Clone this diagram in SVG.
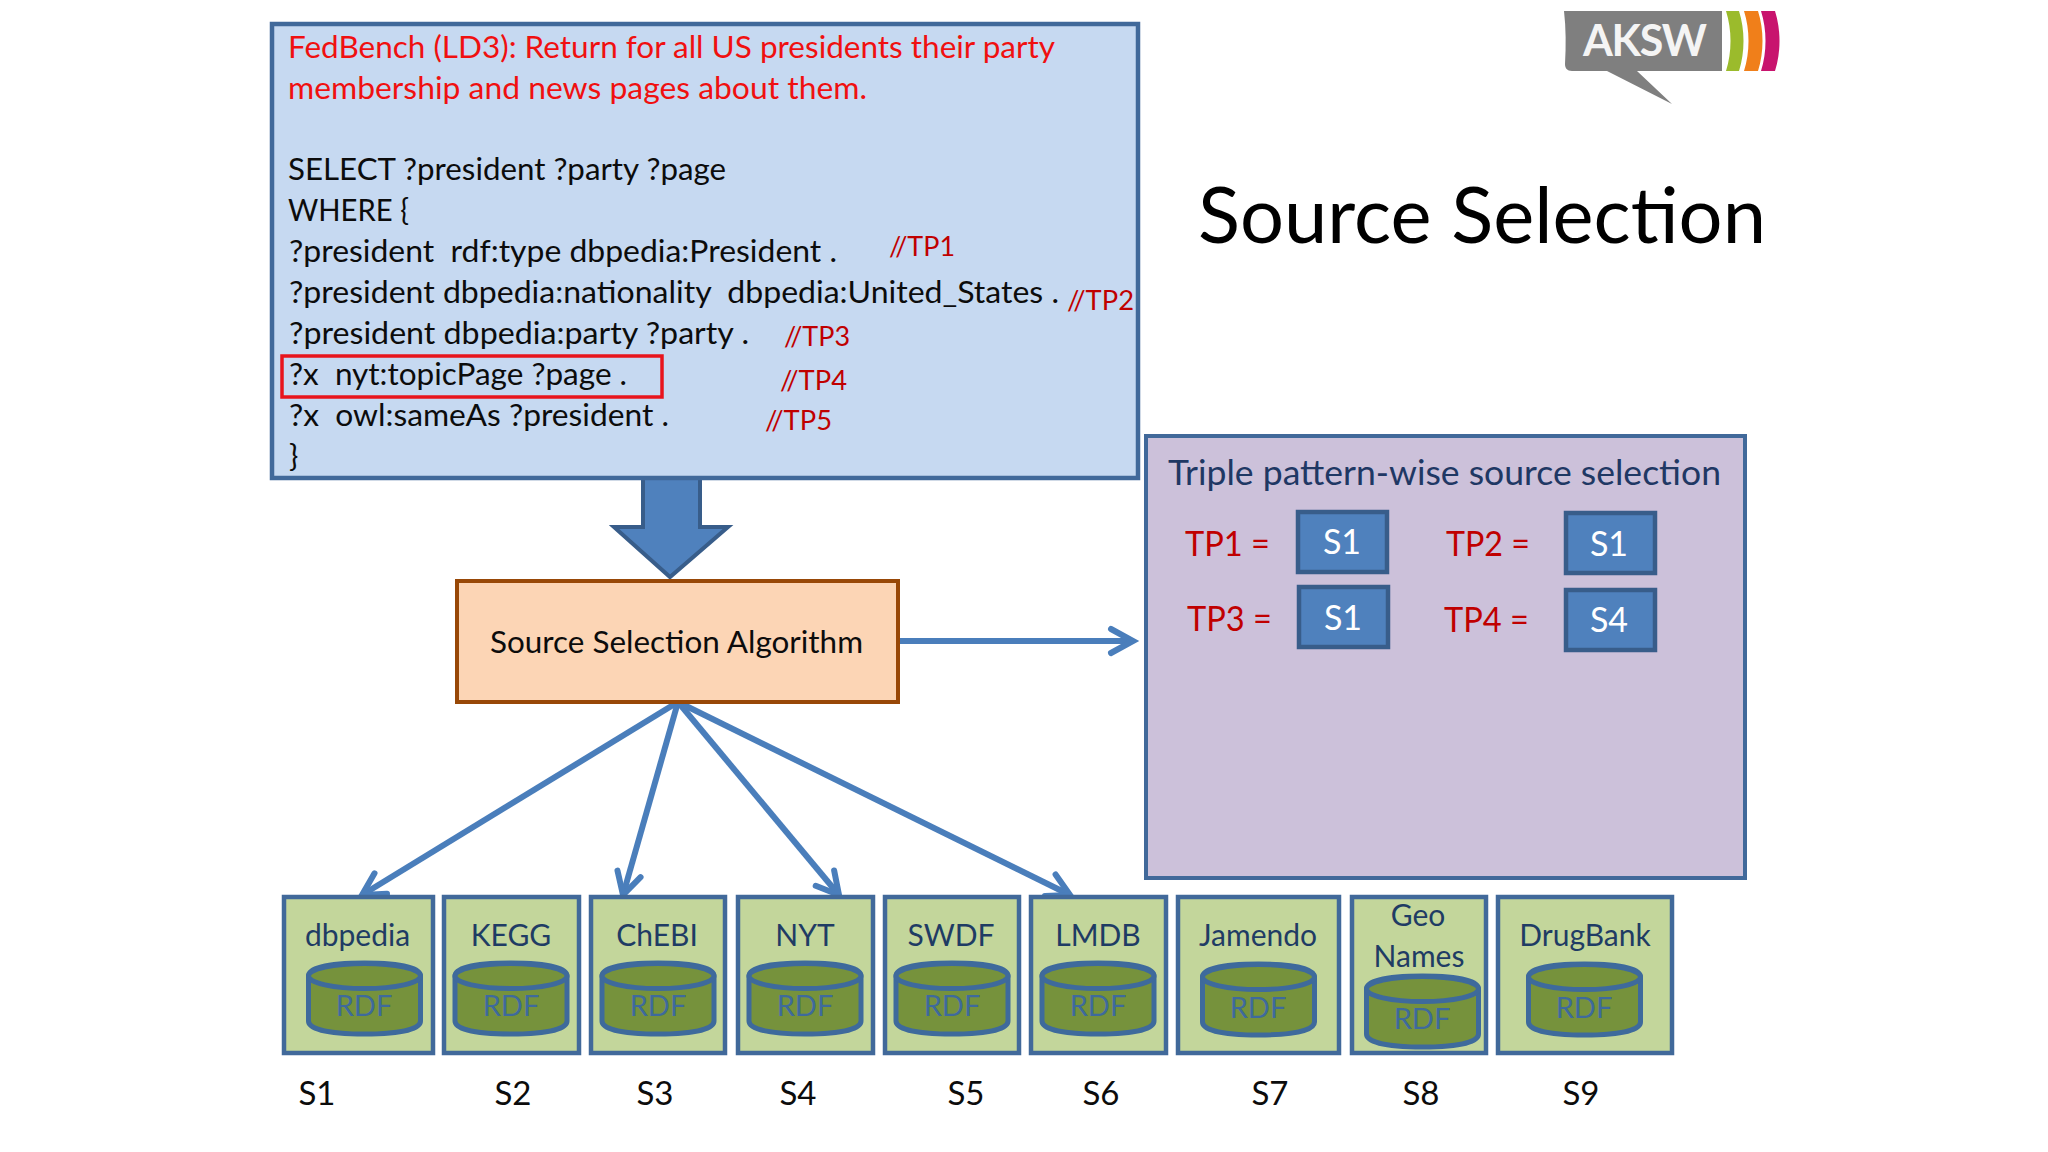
<svg xmlns="http://www.w3.org/2000/svg" width="2048" height="1152" viewBox="0 0 2048 1152">
<style>
text{font-family:Lato,"Liberation Sans",sans-serif}
.q{font-size:31px;fill:#0c0c0c}
.red{font-size:31px;fill:#f01010}
.tp{font-size:27px;fill:#c00000}
.src{fill:#c3d69b;stroke:#41699a;stroke-width:4.5}
.cyl{fill:#76923c;stroke:#3e6a9c;stroke-width:5}
.nm{font-size:30px;fill:#1f3c64;text-anchor:middle}
.rdf{font-size:29px;fill:#3e6a9c;text-anchor:middle}
.sl{font-size:33px;fill:#0c0c0c;text-anchor:middle}
.sb{fill:#4f81bd;stroke:#385d8a;stroke-width:4.5}
.sbt{font-size:34px;fill:#fff;text-anchor:middle}
.te{font-size:34px;fill:#c00000}
.ln{fill:none;stroke:#4a7ebb;stroke-width:6}
</style>
<defs>
<marker id="open" markerUnits="userSpaceOnUse" markerWidth="40" markerHeight="40" refX="30" refY="20" orient="auto" overflow="visible">
<path d="M8,8 L30,20 L8,32" fill="none" stroke="#4a7ebb" stroke-width="6" stroke-linecap="round" stroke-linejoin="miter"/>
</marker>
<g id="cy"><path class="cyl" d="M-56,13 V58 C-56,67 -32,71 0,71 C32,71 56,67 56,58 V13 C56,4 32,0 0,0 C-32,0 -56,4 -56,13 Z"/><ellipse class="cyl" cx="0" cy="13" rx="56" ry="12.5"/></g>
</defs>
<rect width="2048" height="1152" fill="#fff"/>

<g id="logo">
<path d="M1564,11 H1722 V71 H1637 L1672,104 L1607,71 H1572 C1567,71 1565,68 1565,64 C1566,46 1566,28 1564,11 Z" fill="#7f7f7f"/>
<text x="1583" y="56" font-size="43" font-weight="700" fill="#f4f4f4" textLength="124" lengthAdjust="spacing">AKSW</text>
<path d="M1726,11 C1732,30 1732,52 1726,71 H1739 C1745,52 1745,30 1739,11 Z" fill="#9bbb2c"/>
<path d="M1744,11 C1750,30 1750,52 1744,71 H1758 C1764,52 1764,30 1758,11 Z" fill="#f07f1a"/>
<path d="M1761,11 C1767,30 1767,52 1761,71 H1775 C1781,52 1781,30 1775,11 Z" fill="#c8146e"/>
</g>

<text x="1198" y="243" font-size="77" fill="#000" textLength="568" lengthAdjust="spacingAndGlyphs">Source Selection</text>

<g id="connectors">
<path d="M643,478 H700 V527 H728 L670,577 L614,527 H643 Z" fill="#4f81bd" stroke="#385d8a" stroke-width="4"/>
<line class="ln" x1="898" y1="641" x2="1133" y2="641" marker-end="url(#open)"/>
<line class="ln" x1="678" y1="702" x2="362" y2="895" marker-end="url(#open)"/>
<line class="ln" x1="678" y1="702" x2="623" y2="895" marker-end="url(#open)"/>
<line class="ln" x1="678" y1="702" x2="839" y2="895" marker-end="url(#open)"/>
<line class="ln" x1="678" y1="702" x2="1070" y2="895" marker-end="url(#open)"/>
</g>

<g id="query">
<rect x="272" y="24" width="866" height="454" fill="#c6d9f1" stroke="#41699a" stroke-width="4.5"/>
<rect x="282" y="356" width="380" height="41" fill="none" stroke="#e8141c" stroke-width="3.5"/>
<text class="red" x="288" y="58" textLength="767" lengthAdjust="spacingAndGlyphs">FedBench (LD3): Return for all US presidents their party</text>
<text class="red" x="288" y="99" textLength="579" lengthAdjust="spacingAndGlyphs">membership and news pages about them.</text>
<text class="q" x="288" y="180" textLength="438" lengthAdjust="spacingAndGlyphs">SELECT ?president ?party ?page</text>
<text class="q" x="288" y="221" textLength="121" lengthAdjust="spacingAndGlyphs">WHERE {</text>
<text class="q" x="289" y="262" textLength="548" lengthAdjust="spacingAndGlyphs" xml:space="preserve">?president  rdf:type dbpedia:President .</text>
<text class="q" x="289" y="303" textLength="770" lengthAdjust="spacingAndGlyphs" xml:space="preserve">?president dbpedia:nationality  dbpedia:United_States .</text>
<text class="q" x="289" y="344" textLength="460" lengthAdjust="spacingAndGlyphs">?president dbpedia:party ?party .</text>
<text class="q" x="289" y="385" textLength="338" lengthAdjust="spacingAndGlyphs" xml:space="preserve">?x  nyt:topicPage ?page .</text>
<text class="q" x="289" y="426" textLength="380" lengthAdjust="spacingAndGlyphs" xml:space="preserve">?x  owl:sameAs ?president .</text>
<text class="q" x="289" y="467">}</text>
<text class="tp" x="889" y="256" textLength="66" lengthAdjust="spacingAndGlyphs">//TP1</text>
<text class="tp" x="1067" y="310" textLength="67" lengthAdjust="spacingAndGlyphs">//TP2</text>
<text class="tp" x="784" y="346" textLength="66" lengthAdjust="spacingAndGlyphs">//TP3</text>
<text class="tp" x="780" y="390" textLength="67" lengthAdjust="spacingAndGlyphs">//TP4</text>
<text class="tp" x="765" y="430" textLength="67" lengthAdjust="spacingAndGlyphs">//TP5</text>
</g>

<g id="algorithm">
<rect x="457" y="581" width="441" height="121" fill="#fcd5b5" stroke="#984807" stroke-width="4"/>
<text x="490" y="653" font-size="31" fill="#0c0c0c" textLength="373" lengthAdjust="spacingAndGlyphs">Source Selection Algorithm</text>
</g>

<g id="result">
<rect x="1146" y="436" width="599" height="442" fill="#ccc1da" stroke="#41699a" stroke-width="4"/>
<text x="1168" y="485" font-size="34" fill="#1f3864" textLength="553" lengthAdjust="spacingAndGlyphs">Triple pattern-wise source selection</text>
<text class="te" x="1185" y="556" textLength="85" lengthAdjust="spacingAndGlyphs">TP1 =</text>
<rect class="sb" x="1298" y="512" width="89" height="60"/><text class="sbt" x="1342" y="554">S1</text>
<text class="te" x="1446" y="556" textLength="84" lengthAdjust="spacingAndGlyphs">TP2 =</text>
<rect class="sb" x="1566" y="513" width="89" height="60"/><text class="sbt" x="1609" y="556">S1</text>
<text class="te" x="1187" y="631" textLength="85" lengthAdjust="spacingAndGlyphs">TP3 =</text>
<rect class="sb" x="1299" y="587" width="89" height="60"/><text class="sbt" x="1343" y="630">S1</text>
<text class="te" x="1444" y="632" textLength="85" lengthAdjust="spacingAndGlyphs">TP4 =</text>
<rect class="sb" x="1566" y="590" width="89" height="60"/><text class="sbt" x="1609" y="632">S4</text>
</g>

<g id="s1"><rect class="src" x="284" y="897" width="149" height="156"/><text class="nm" x="357.500" y="946">dbpedia</text><use href="#cy" x="364.500" y="963"/><text class="rdf" x="364" y="1016">RDF</text><text class="sl" x="317" y="1105">S1</text></g>
<g id="s2"><rect class="src" x="444" y="897" width="135" height="156"/><text class="nm" x="511" y="946">KEGG</text><use href="#cy" x="511" y="963"/><text class="rdf" x="511" y="1016">RDF</text><text class="sl" x="513" y="1105">S2</text></g>
<g id="s3"><rect class="src" x="591" y="897" width="134" height="156"/><text class="nm" x="657" y="946">ChEBI</text><use href="#cy" x="658" y="963"/><text class="rdf" x="658" y="1016">RDF</text><text class="sl" x="655" y="1105">S3</text></g>
<g id="s4"><rect class="src" x="738" y="897" width="135" height="156"/><text class="nm" x="805" y="946">NYT</text><use href="#cy" x="805" y="963"/><text class="rdf" x="805" y="1016">RDF</text><text class="sl" x="798" y="1105">S4</text></g>
<g id="s5"><rect class="src" x="885" y="897" width="134" height="156"/><text class="nm" x="951" y="946">SWDF</text><use href="#cy" x="952" y="963"/><text class="rdf" x="952" y="1016">RDF</text><text class="sl" x="966" y="1105">S5</text></g>
<g id="s6"><rect class="src" x="1031" y="897" width="135" height="156"/><text class="nm" x="1098" y="946">LMDB</text><use href="#cy" x="1098" y="963"/><text class="rdf" x="1098" y="1016">RDF</text><text class="sl" x="1101" y="1105">S6</text></g>
<g id="s7"><rect class="src" x="1178" y="897" width="161" height="156"/><text class="nm" x="1258" y="946">Jamendo</text><use href="#cy" x="1258.500" y="964"/><text class="rdf" x="1258" y="1018">RDF</text><text class="sl" x="1270" y="1105">S7</text></g>
<g id="s8"><rect class="src" x="1352" y="897" width="134" height="156"/><text class="nm" x="1418" y="926">Geo</text><text class="nm" x="1419" y="967">Names</text><use href="#cy" x="1422.500" y="976"/><text class="rdf" x="1422" y="1029">RDF</text><text class="sl" x="1421" y="1105">S8</text></g>
<g id="s9"><rect class="src" x="1498" y="897" width="174" height="156"/><text class="nm" x="1585" y="946">DrugBank</text><use href="#cy" x="1584.500" y="964"/><text class="rdf" x="1584" y="1018">RDF</text><text class="sl" x="1581" y="1105">S9</text></g>
</svg>
